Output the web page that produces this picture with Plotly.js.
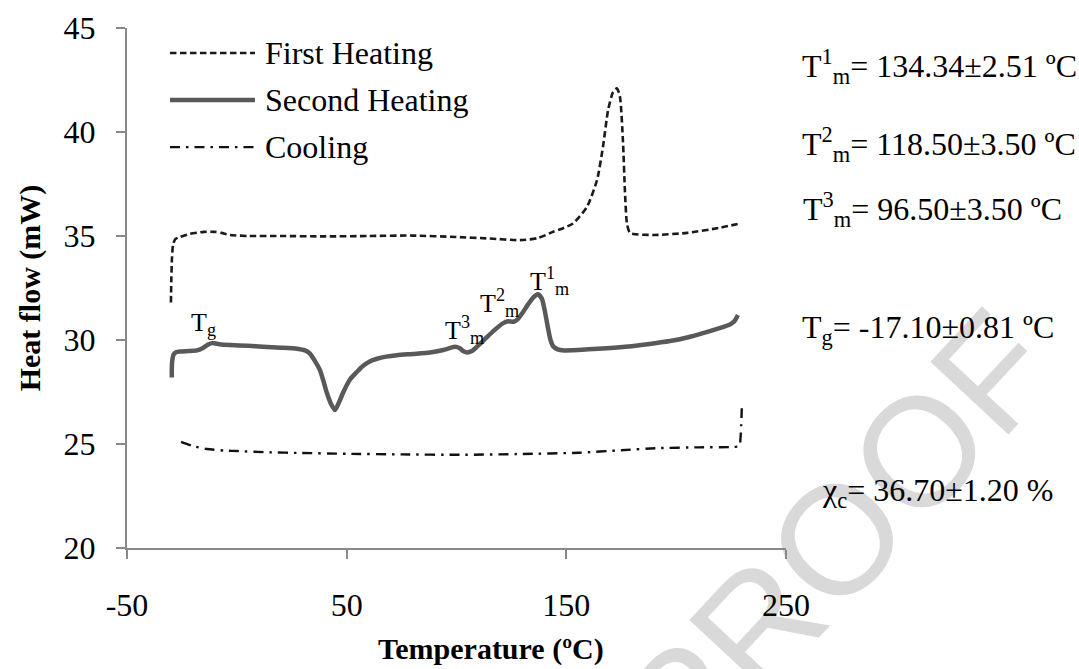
<!DOCTYPE html>
<html>
<head>
<meta charset="utf-8">
<script src="https://cdn.plot.ly/plotly-3.0.1.min.js"></script>
<style>html,body{margin:0;padding:0;background:#fff;}#chart{width:1079px;height:669px;}</style>
</head>
<body>
<div id="chart"></div>
<script>
// ---- Data ----
const firstHeatingX = [-30.0,-29.8,-29.5,-29.0,-28.0,-26.0,-21.5,-15.0,-10.0,-7.0,-3.0,5,20,40,60,80,100,115,129,137,144,148,153,159.4,164,166.7,169,171.2,173,174.4,175.8,176.7,177.6,179,189.4,205,220,229];
const firstHeatingY = [31.8,33.0,34.0,34.6,34.85,34.95,35.1,35.2,35.2,35.15,35.05,35.0,35.0,34.98,35.0,35.02,34.95,34.88,34.8,34.9,35.2,35.35,35.6,36.4,37.7,39.3,41.05,41.9,42.1,41.7,39.5,37.1,35.6,35.15,35.05,35.15,35.4,35.6];

const secondHeatingX = [-29.6,-29.6,-29.4,-28.8,-27.5,-25.9,-22,-18.1,-15.4,-13,-11.3,-8,-3.1,5,11.9,20,27.4,31,33.3,35.5,37.8,39.5,41.0,43,44.7,46.5,48.3,51.5,54.5,57.4,60.5,63.8,68,72.9,80,87.9,94,99.3,101.5,103,104.9,107,110,113,117,121.1,123.5,126,128,130,132.5,135,137.1,138.8,140.2,141.6,142.8,144,146,149,160,174.4,187,197.2,205,212.2,219,224.5,226.5,228.1];
const secondHeatingY = [28.2,28.6,29.0,29.3,29.42,29.45,29.47,29.5,29.62,29.78,29.85,29.8,29.76,29.72,29.67,29.63,29.58,29.5,29.35,29.0,28.56,28.0,27.45,26.9,26.63,27.0,27.45,28.1,28.45,28.75,28.97,29.1,29.2,29.27,29.33,29.4,29.52,29.67,29.6,29.47,29.4,29.47,29.75,30.05,30.45,30.8,30.9,30.88,31.02,31.3,31.7,32.05,32.2,32.0,31.4,30.6,30.0,29.7,29.55,29.5,29.55,29.65,29.8,29.95,30.12,30.33,30.55,30.75,30.9,31.2];

const coolingX = [-25.4,-20,-13.6,-5,0,15,28.7,50,75,101.6,130,155.7,175,191.7,210,226.3,228.8,229.3,229.6,229.8,229.9];
const coolingY = [25.1,24.9,24.76,24.68,24.66,24.6,24.57,24.53,24.5,24.48,24.52,24.58,24.7,24.8,24.84,24.86,24.9,25.3,25.9,26.5,26.9];

const legendLabels = ["First Heating", "Second Heating", "Cooling"];
const xTickVals = [-50, 50, 150, 250];
const xTickText = ["-50", "50", "150", "250"];
const yTickVals = [20, 25, 30, 35, 40, 45];
const yTickText = ["20", "25", "30", "35", "40", "45"];

const peakLabels = ["T<sub>g</sub>", "T<sup>3</sup><sub>m</sub>", "T<sup>2</sup><sub>m</sub>", "T<sup>1</sup><sub>m</sub>"];
const peakLabelX = [-21.8, 93.8, 109.7, 132.5];
const peakLabelY = [30.75, 30.5, 31.8, 32.85];

const resultLabels = [
  "T<sup>1</sup><sub>m</sub>= 134.34±2.51 ºC",
  "T<sup>2</sup><sub>m</sub>= 118.50±3.50 ºC",
  "T<sup>3</sup><sub>m</sub>= 96.50±3.50 ºC",
  "T<sub>g</sub>= -17.10±0.81 ºC",
  "χ<sub>c</sub>= 36.70±1.20 %"
];
const resultX = [1.021, 1.021, 1.023, 1.021, 1.052];
const resultY = [0.925, 0.776, 0.651, 0.42, 0.106];

const watermarkText = "PROOF";

// ---- Styles ----
const serif = "Liberation Serif";
const styles = [
  {color: "#1a1a1a", width: 2.6, dash: "6.5px,3.5px"},
  {color: "#595959", width: 4.5, dash: "solid"},
  {color: "#111111", width: 2.4, dash: "10px,6px,2.5px,6px"}
];

const traces = [
  {x: firstHeatingX, y: firstHeatingY, name: legendLabels[0], type: "scatter", mode: "lines", line: Object.assign({shape: "spline", smoothing: 0.6}, styles[0])},
  {x: secondHeatingX, y: secondHeatingY, name: legendLabels[1], type: "scatter", mode: "lines", line: Object.assign({shape: "spline", smoothing: 0.6}, styles[1])},
  {x: coolingX, y: coolingY, name: legendLabels[2], type: "scatter", mode: "lines", line: Object.assign({shape: "spline", smoothing: 0.6}, styles[2])}
];

const annotations = [];
const legendY = [0.952, 0.8615, 0.771];
legendLabels.forEach((t, i) => annotations.push({text: t, xref: "paper", yref: "paper", x: 0.2064, y: legendY[i], xanchor: "left", yanchor: "middle", showarrow: false, font: {family: serif, size: 32, color: "#000"}}));
peakLabels.forEach((t, i) => annotations.push({text: t, xref: "x", yref: "y", x: peakLabelX[i], y: peakLabelY[i], xanchor: "left", yanchor: "middle", showarrow: false, font: {family: serif, size: 26, color: "#000"}}));
resultLabels.forEach((t, i) => annotations.push({text: t, xref: "paper", yref: "paper", x: resultX[i], y: resultY[i], xanchor: "left", yanchor: "middle", showarrow: false, font: {family: serif, size: 32, color: "#000"}}));
annotations.push({text: "<b>Temperature (ºC)</b>", xref: "paper", yref: "paper", x: 0.552, y: -0.194, xanchor: "center", yanchor: "middle", showarrow: false, font: {family: serif, size: 30, color: "#000"}});

const shapes = legendY.map((y, i) => ({type: "line", xref: "paper", yref: "paper", x0: 0.0652, x1: 0.1942, y0: y, y1: y, line: styles[i]}));
// watermark drawn beneath the axes and curves
shapes.push({type: "rect", xref: "paper", yref: "paper", layer: "below", x0: 0.956, x1: 1.166, y0: -0.064, y1: 0.136,
  line: {width: 0}, fillcolor: "rgba(0,0,0,0)",
  label: {text: watermarkText, textangle: -47, textposition: "middle center", font: {family: "Liberation Sans", size: 155, color: "#d9d9d9"}}});

const axisCommon = {showgrid: false, zeroline: false, showline: true, linecolor: "#898989", linewidth: 2, ticks: "outside", ticklen: 9, tickwidth: 2, tickcolor: "#898989", tickfont: {family: serif, size: 32, color: "#000"}};

const layout = {
  width: 1079, height: 669,
  margin: {l: 127, r: 293, t: 28, b: 121},
  paper_bgcolor: "#fff", plot_bgcolor: "rgba(0,0,0,0)",
  showlegend: false,
  xaxis: Object.assign({}, axisCommon, {range: [-50, 250], tickvals: xTickVals, ticktext: xTickText, ticklabelstandoff: 19}),
  yaxis: Object.assign({}, axisCommon, {range: [20, 45], tickvals: yTickVals, ticktext: yTickText, ticklabelstandoff: 14,
    title: {text: "<b>Heat flow (mW)</b>", font: {family: serif, size: 30, color: "#000"}, standoff: 14}}),
  annotations: annotations,
  shapes: shapes
};

Plotly.newPlot("chart", traces, layout, {displayModeBar: false, staticPlot: true});
</script>
</body>
</html>
